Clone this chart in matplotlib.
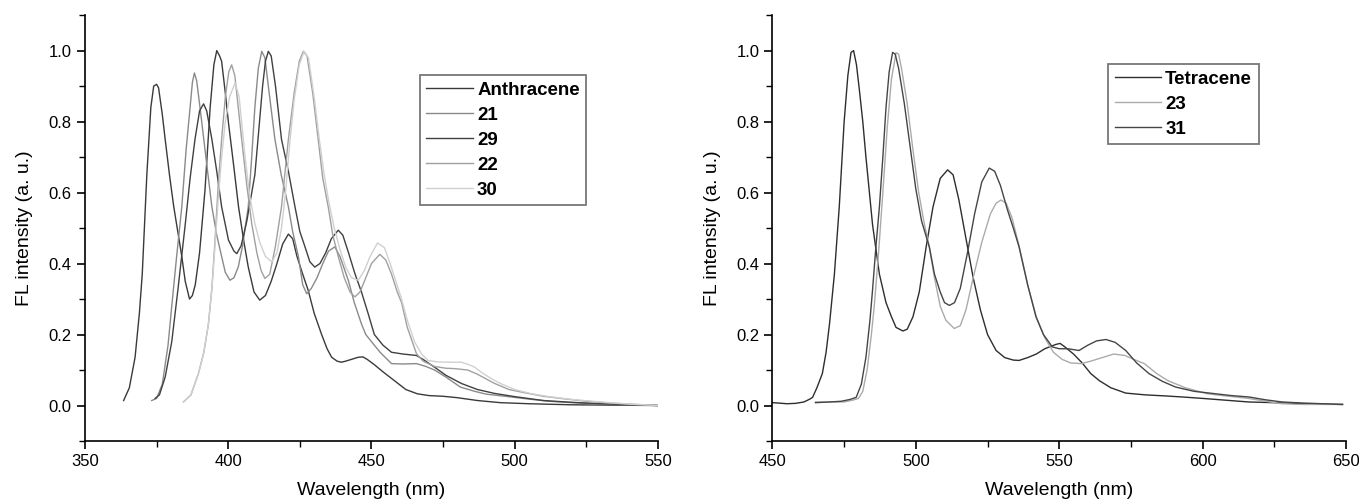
import matplotlib
matplotlib.use('Agg')
import matplotlib.pyplot as plt
from matplotlib.ticker import MultipleLocator

plt.rcParams['font.family'] = ['Liberation Sans', 'DejaVu Sans']

# ---- left panel: anthracene series (wavelength nm, normalised FL) ----
anth_wl = [363.5, 365.5, 367.5, 369, 370, 371.6, 373, 374, 375, 375.7, 377, 378, 379.5, 381, 383.8, 385, 386.5,
           387.5, 388.5, 390, 391.9, 393.7, 395, 396, 397, 397.7, 399, 400.1, 402, 403.6, 405.5, 407, 409, 411,
           413, 415, 417, 419, 421, 422.5, 424, 426, 427.9, 430, 432.6, 434.5, 436.1, 438, 439.5, 441, 443,
           445.4, 447, 448.5, 451, 454, 458, 462, 466, 470, 475, 480, 487, 495, 505, 520, 550]
anth_i = [0.014, 0.05, 0.136, 0.26, 0.37, 0.65, 0.84, 0.90, 0.905, 0.895, 0.82, 0.75, 0.65, 0.56, 0.42, 0.35, 0.30,
          0.31, 0.34, 0.43, 0.607, 0.84, 0.96, 1.0, 0.985, 0.97, 0.88, 0.796, 0.67, 0.56, 0.46, 0.39, 0.32, 0.297,
          0.31, 0.35, 0.40, 0.455, 0.483, 0.47, 0.42, 0.37, 0.325, 0.26, 0.20, 0.16, 0.136, 0.125, 0.122, 0.125, 0.13,
          0.136, 0.137, 0.13, 0.115, 0.095, 0.07, 0.045, 0.033, 0.028, 0.026, 0.022, 0.014, 0.008, 0.005, 0.002, 0.0]

c21_wl = [373.3, 375, 377, 379, 380.3, 382, 383.8, 385.3, 386.7, 387.5, 388.2, 389, 390, 390.8, 392.5, 394.3, 396,
          397.7, 399, 400.6, 402, 403.5, 405, 407, 408.2, 409.3, 410.5, 411.7, 412.8, 414, 416.3, 418.5, 421, 422.5,
          424.5, 426, 427.4, 429, 431, 433, 435, 437.2, 439, 441.9, 444, 446.5, 448, 450, 453, 457, 461, 465.7, 469,
          472, 476, 481, 486, 490, 498.8, 505, 512, 520, 530, 550]
c21_i = [0.014, 0.02, 0.06, 0.17, 0.28, 0.42, 0.56, 0.72, 0.84, 0.91, 0.937, 0.915, 0.85, 0.796, 0.68, 0.56, 0.48,
         0.42, 0.375, 0.353, 0.36, 0.39, 0.45, 0.56, 0.70, 0.84, 0.95, 0.998, 0.98, 0.90, 0.75, 0.65, 0.56, 0.49,
         0.42, 0.34, 0.315, 0.33, 0.36, 0.40, 0.435, 0.447, 0.42, 0.353, 0.29, 0.23, 0.20, 0.18, 0.15, 0.118, 0.117,
         0.118, 0.11, 0.10, 0.08, 0.052, 0.04, 0.032, 0.024, 0.018, 0.012, 0.008, 0.004, 0.0]

c29_wl = [374.5, 376, 378, 380.3, 382.5, 385, 386.7, 388.4, 390, 391.4, 392.5, 394.3, 396, 397.7, 400.1, 402, 403,
          404.5, 406.5, 408, 409.3, 410.5, 412, 413, 414, 415, 416.5, 418.6, 421, 423.3, 425, 426.8, 428.5, 430.2,
          432, 434, 436, 438.4, 440, 442, 444.2, 446.5, 448.8, 451, 454, 457, 461, 465.7, 468, 472, 476, 481.4,
          487, 493, 500, 510, 520, 530, 550]
c29_i = [0.02, 0.03, 0.08, 0.18, 0.33, 0.51, 0.64, 0.75, 0.83, 0.85, 0.83, 0.75, 0.66, 0.56, 0.466, 0.435, 0.428,
         0.45, 0.52, 0.59, 0.65, 0.76, 0.90, 0.97, 0.998, 0.985, 0.90, 0.75, 0.66, 0.56, 0.49, 0.447, 0.405, 0.39,
         0.40, 0.43, 0.47, 0.494, 0.48, 0.43, 0.372, 0.32, 0.26, 0.20, 0.17, 0.15, 0.145, 0.141, 0.13, 0.108, 0.085,
         0.062, 0.045, 0.034, 0.025, 0.014, 0.009, 0.005, 0.0]

c22_wl = [384.4, 387, 389.6, 391.5, 393.1, 394.3, 395.4, 396.5, 397.7, 399, 400.2, 401.2, 402.3, 403.5, 404.7, 406.5,
          408.2, 410, 411.5, 412.8, 414.5, 416.5, 418.6, 421, 423, 424.8, 426.2, 427.5, 429.5, 431.4, 433, 434.9,
          436.5, 438.4, 440.5, 442.5, 444.2, 446, 448, 450, 452.9, 455, 457, 459, 460.5, 462.5, 465.7, 468, 472,
          476, 479, 483.6, 487, 490, 493, 498, 504.7, 510, 516, 525, 535, 550]
c22_i = [0.01, 0.03, 0.09, 0.15, 0.23, 0.33, 0.466, 0.62, 0.75, 0.87, 0.94, 0.96, 0.93, 0.84, 0.75, 0.62,
         0.513, 0.43, 0.38, 0.358, 0.37, 0.45, 0.56, 0.75, 0.88, 0.97, 0.998, 0.985, 0.88, 0.75, 0.64, 0.56,
         0.48, 0.42, 0.36, 0.32, 0.306, 0.32, 0.36, 0.40, 0.426, 0.41, 0.37, 0.32, 0.29, 0.22, 0.146, 0.125, 0.11,
         0.105, 0.104, 0.10, 0.088, 0.075, 0.062, 0.045, 0.034, 0.026, 0.02, 0.012, 0.006, 0.0]

c30_wl = [384.4, 387, 389.6, 391.5, 393.1, 394.3, 395.4, 396.5, 397.7, 399, 400.5, 402.4, 403.8, 405.9, 407.5, 409.3,
          411, 413, 415.2, 417, 418.6, 420, 421.5, 423, 424.8, 426.5, 428, 430, 431.8, 433.5, 435.2, 437, 439, 441,
          443, 445.4, 447.5, 449.5, 452.1, 454.5, 456.5, 458.5, 460.5, 462.5, 465, 467.5, 469.7, 473, 477, 481.4,
          484, 486, 489, 492, 495, 500, 506, 512, 520, 530, 540, 550]
c30_i = [0.01, 0.03, 0.09, 0.15, 0.23, 0.33, 0.45, 0.58, 0.70, 0.80, 0.87, 0.909, 0.87, 0.70, 0.59, 0.513,
         0.46, 0.42, 0.405, 0.43, 0.50, 0.60, 0.74, 0.86, 0.96, 0.998, 0.98, 0.87, 0.75, 0.65, 0.57, 0.50, 0.44, 0.39,
         0.36, 0.353, 0.38, 0.42, 0.458, 0.445, 0.40, 0.35, 0.30, 0.24, 0.18, 0.145, 0.127, 0.123, 0.122, 0.122,
         0.115, 0.108, 0.09, 0.075, 0.062, 0.045, 0.033, 0.025, 0.017, 0.01, 0.004, 0.0]

# ---- right panel: tetracene series ----
tet_wl = [450, 452, 455, 458, 461, 463, 464, 465.5, 467.4, 468.7, 469.9, 471.6, 473.3, 475, 476.3, 477.4, 478.3,
          479.3, 480.3, 481.5, 482.6, 484.9, 487.3, 489.6, 491.5, 493.1, 495.5, 497, 499, 501.2, 503.6, 506, 508.5,
          511.1, 513, 515, 517.5, 520, 522.5, 525, 528, 531, 534, 536, 539, 542, 545, 548.8, 550.3, 552, 555, 558,
          561, 564, 568, 573.2, 580, 587, 593, 600, 608, 616, 625, 635, 648.8]
tet_i = [0.008, 0.007, 0.005, 0.006, 0.01, 0.018, 0.023, 0.05, 0.09, 0.15, 0.23, 0.37, 0.56, 0.80, 0.93, 0.995, 1.0,
         0.96, 0.89, 0.80, 0.70, 0.51, 0.37, 0.29, 0.25, 0.22, 0.21, 0.215, 0.25, 0.32, 0.447, 0.56, 0.64,
         0.664, 0.65, 0.58, 0.47, 0.36, 0.27, 0.20, 0.155, 0.135, 0.128, 0.127, 0.135, 0.145, 0.16, 0.172, 0.175,
         0.165, 0.145, 0.12, 0.09, 0.07, 0.05, 0.035, 0.03, 0.027, 0.024, 0.02, 0.015, 0.01, 0.008, 0.005, 0.003]

c31_wl = [465, 470, 474, 477, 479.2, 481, 482.6, 484, 484.9, 486, 487.3, 488.5, 489.6, 490.7, 491.9, 492.8, 494, 496,
          498, 500, 502, 504.7, 506.5, 508.5, 510, 511.7, 513.5, 515.5, 518, 520.5, 523, 525.6, 527.5, 529.5, 532,
          534, 536, 539, 541.9, 544.5, 547.6, 550, 553, 556.9, 560, 563, 566.3, 569.5, 573.2, 577, 581.3, 586,
          590.6, 597, 604.6, 610, 616.2, 622, 627.7, 635, 648.8]
c31_i = [0.008, 0.01, 0.012, 0.017, 0.023, 0.06, 0.136, 0.24, 0.325, 0.44, 0.56, 0.70, 0.84, 0.94, 0.995, 0.99, 0.95,
         0.85, 0.73, 0.61, 0.52, 0.447, 0.37, 0.32, 0.29, 0.282, 0.29, 0.33, 0.43, 0.54, 0.63, 0.669, 0.66, 0.62,
         0.55, 0.50, 0.447, 0.34, 0.25, 0.20, 0.165, 0.16, 0.16, 0.155, 0.17, 0.182, 0.186, 0.178, 0.155, 0.12,
         0.09, 0.068, 0.052, 0.04, 0.033, 0.028, 0.024, 0.016, 0.01, 0.007, 0.003]

c23_wl = [465, 470, 475, 478, 480, 481.5, 483, 484.5, 485.5, 487, 488.5, 490, 491.5, 493.1, 494, 495, 497, 499, 501,
          503, 504.7, 506.5, 508.5, 510.5, 513.4, 515.5, 517.5, 520, 523, 526, 528, 529.7, 531.5, 533.5, 536, 539,
          542, 545, 548, 551, 554, 557.7, 561, 565, 569, 572.9, 576, 579.7, 584, 587.9, 594, 601.7, 608, 616, 622,
          627.7, 635, 648.8]
c23_i = [0.01, 0.01, 0.01, 0.015, 0.02, 0.04, 0.1, 0.2, 0.28, 0.43, 0.6, 0.78, 0.92, 0.994, 0.99, 0.95, 0.85, 0.72,
         0.60, 0.51, 0.447, 0.36, 0.28, 0.24, 0.217, 0.225, 0.27, 0.36, 0.46, 0.54, 0.57, 0.579, 0.57, 0.53, 0.45,
         0.34, 0.25, 0.19, 0.15, 0.13, 0.12, 0.118, 0.125, 0.135, 0.145, 0.141, 0.13, 0.118, 0.09, 0.07, 0.05,
         0.033, 0.027, 0.02, 0.012, 0.005, 0.003, 0.003]

left_series = [('Anthracene', anth_wl, anth_i, '#3a3a3a'),
               ('21', c21_wl, c21_i, '#8a8a8a'),
               ('29', c29_wl, c29_i, '#404040'),
               ('22', c22_wl, c22_i, '#a0a0a0'),
               ('30', c30_wl, c30_i, '#d0d0d0')]
right_series = [('Tetracene', tet_wl, tet_i, '#2e2e2e'),
                ('23', c23_wl, c23_i, '#ababab'),
                ('31', c31_wl, c31_i, '#454545')]


def style_axis(ax, xmin, xmax):
    ax.set_xlim(xmin, xmax)
    ax.set_ylim(-0.1, 1.1)
    ax.spines['top'].set_visible(False)
    ax.spines['right'].set_visible(False)
    for s in ['left', 'bottom']:
        ax.spines[s].set_linewidth(1.2)
    ax.xaxis.set_major_locator(MultipleLocator(50))
    ax.xaxis.set_minor_locator(MultipleLocator(25))
    ax.yaxis.set_minor_locator(MultipleLocator(0.1))
    ax.set_yticks([0.0, 0.2, 0.4, 0.6, 0.8, 1.0])
    ax.tick_params(which='major', direction='out', length=6, width=1.2, labelsize=12)
    ax.tick_params(which='minor', direction='out', length=4, width=1.0)
    ax.yaxis.set_major_formatter(matplotlib.ticker.FormatStrFormatter('%.1f'))
    ax.set_xlabel('Wavelength (nm)', fontsize=14, labelpad=9)
    ax.set_ylabel('FL intensity (a. u.)', fontsize=14, labelpad=11)


fig = plt.figure(figsize=(13.59, 5.04), dpi=100)
ax1 = fig.add_axes([0.0625, 0.125, 0.4217, 0.845])
ax2 = fig.add_axes([0.5684, 0.125, 0.4220, 0.845])

for name, wl, inten, col in left_series:
    ax1.plot(wl, inten, color=col, lw=1.0, label=name)
for name, wl, inten, col in right_series:
    ax2.plot(wl, inten, color=col, lw=1.0, label=name)

style_axis(ax1, 350, 550)
style_axis(ax2, 450, 650)

for ax, anchor in [(ax1, (0.309, 0.851)), (ax2, (0.8153, 0.873))]:
    leg = ax.legend(loc='upper left', bbox_to_anchor=anchor, bbox_transform=fig.transFigure,
                    prop={'weight': 'bold', 'size': 13.5}, frameon=True, fancybox=False,
                    handlelength=2.5, handletextpad=0.2, labelspacing=0.42, borderpad=0.35,
                    borderaxespad=0.0)
    leg.get_frame().set_edgecolor('#555555')
    leg.get_frame().set_linewidth(1.3)

fig.savefig('out.png', dpi=100)
